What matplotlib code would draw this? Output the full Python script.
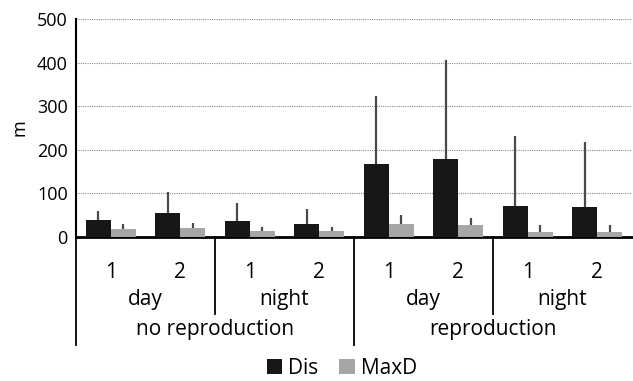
import numpy as np
import matplotlib
matplotlib.use('Agg')
import matplotlib.pyplot as plt
from matplotlib.transforms import blended_transform_factory
from matplotlib.lines import Line2D

matplotlib.rcParams['font.family'] = 'Open Sans'

# values (m)
season = ['no reproduction', 'reproduction']
period = ['day', 'night', 'day', 'night']
obs = ['1', '2', '1', '2', '1', '2', '1', '2']
dis = [39, 56, 37, 30, 167, 180, 72, 68]
dis_sd = [20, 47, 41, 35, 157, 227, 160, 149]
maxd = [19, 21, 13, 13, 30, 27, 12, 12]
maxd_sd = [11, 12, 10, 11, 21, 16, 15, 15]

W, H = 633, 381
fig = plt.figure(figsize=(W / 100, H / 100), dpi=100)
ax = fig.add_axes([76 / W, 1 - 237 / H, 556 / W, 218 / H])

n = len(dis)
x = np.arange(n) + 0.5
w = 0.36
errkw = dict(ecolor='#4a4a4a', elinewidth=1.6, capsize=0)
ax.bar(x - w / 2, dis, w, color='#171717', label='Dis', zorder=3,
       yerr=[np.zeros(n), dis_sd], error_kw=errkw)
ax.bar(x + w / 2, maxd, w, color='#a6a6a6', label='MaxD', zorder=3,
       yerr=[np.zeros(n), maxd_sd], error_kw=errkw)

ax.set_xlim(0, n)
ax.set_ylim(0, 500)
ax.set_yticks(range(0, 501, 100))
ax.tick_params(axis='y', length=0, labelsize=13, pad=6)
ax.set_xticks([])
ax.yaxis.grid(True, ls=(0, (1, 1)), color='#8c8c8c', lw=0.8, zorder=0)
for s in ['top', 'right']:
    ax.spines[s].set_visible(False)
ax.spines['left'].set_linewidth(1.5)
ax.spines['bottom'].set_linewidth(2)
ax.set_ylabel('m', fontsize=13, labelpad=6)

# hierarchical category axis
tr = blended_transform_factory(ax.transData, fig.transFigure)
def fy(p):
    return 1 - p / H

for i, lab in enumerate(obs):
    ax.text(x[i], fy(273), lab, transform=tr, ha='center', va='center', fontsize=15)
for j, lab in enumerate(period):
    ax.text(2 * j + 1, fy(300), lab, transform=tr, ha='center', va='center', fontsize=15)
for k, lab in enumerate(season):
    ax.text(4 * k + 2, fy(329), lab, transform=tr, ha='center', va='center', fontsize=15)

for xs, bottom in [(0, 345), (2, 314), (4, 345), (6, 314)]:
    fig.add_artist(Line2D([xs, xs], [fy(237), fy(bottom)], transform=tr,
                          color='black', lw=1.3))

fig.legend(loc='center', bbox_to_anchor=(342 / W, fy(368)), ncol=2, frameon=False,
           fontsize=15, handlelength=0.75, handleheight=0.75, handletextpad=0.3,
           columnspacing=1.0)

fig.savefig('out.png', dpi=100)
